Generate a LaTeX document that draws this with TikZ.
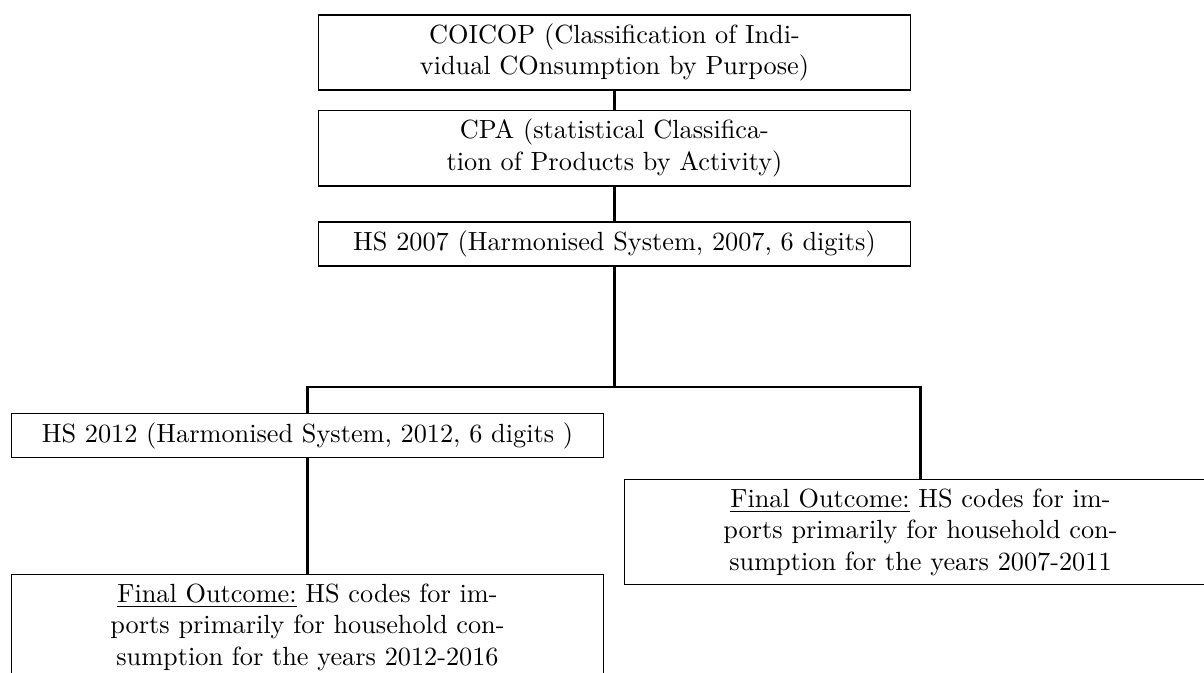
\documentclass[tikz,border=0pt]{standalone}
\tikzset{
  box/.style={draw, line width=0.55pt, text width=218.6pt, align=center,
    inner sep=3.33pt, anchor=north},
  topbox/.style={box, line width=0.7pt},
  link/.style={line width=0.95pt},
}
\begin{document}
\begin{tikzpicture}[x=0.3805pt, y=-0.3805pt]
    \useasboundingbox (0,0) rectangle (1204,672);
    \clip (0,0) rectangle (1204,672);
    \node[topbox] (coicop) at (614.5,14) {COICOP (Classification of Indi-\\vidual COnsumption by Purpose)};
    \node[topbox] (cpa) at (614.5,109.5) {CPA (statistical Classifica-\\tion of Products by Activity)};
    \node[topbox] (hs07) at (614.5,221) {HS 2007 (Harmonised System, 2007, 6 digits)};
    \node[box] (hs12) at (307.5,413) {HS 2012 (Harmonised System, 2012, 6 digits )};
    \node[box] (fin12) at (307.5,574) {\underline{Final Outcome:} HS codes for im-\\ports primarily for household con-\\sumption for the years 2012-2016};
    \node[box] (fin07) at (920.5,479) {\underline{Final Outcome:} HS codes for im-\\ports primarily for household con-\\sumption for the years 2007-2011};
    \coordinate (bar) at (614.5,387);
    \draw[link] (coicop) -- (cpa);
    \draw[link] (cpa) -- (hs07);
    \draw[link] (hs07) -- (bar) -| (hs12);
    \draw[link] (bar) -| (fin07);
    \draw[link] (hs12) -- (fin12);
    \end{tikzpicture}
\end{document}
